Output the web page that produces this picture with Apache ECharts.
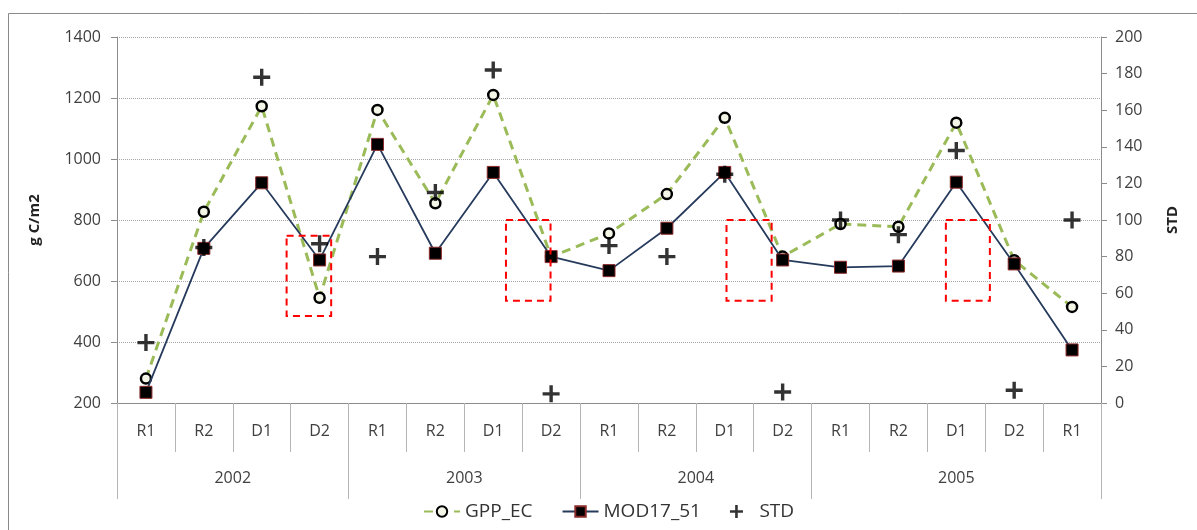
<!DOCTYPE html>
<html>
<head>
<meta charset="utf-8">
<script src="https://cdn.jsdelivr.net/npm/echarts@6/dist/echarts.min.js"></script>
<style>html,body{margin:0;padding:0;background:#fff}#c{width:1197px;height:530px}</style>
</head>
<body>
<div id="c"></div>
<script>
const categories = ['R1','R2','D1','D2','R1','R2','D1','D2','R1','R2','D1','D2','R1','R2','D1','D2','R1'];
const years = ['2002','2003','2004','2005'];
const yearSpans = [4, 4, 4, 5];
const gppEC = [280, 827, 1173, 545, 1161, 855, 1210, 679, 756, 885, 1135, 680, 787, 778, 1119, 668, 515];
const mod17 = [235, 707, 922, 669, 1048, 691, 956, 680, 634, 773, 956, 669, 645, 649, 924, 656, 374];
const stdVals = [33, 85, 178, 87, 80, 115, 182, 5, 86, 80, 125, 6, 100, 92, 138, 7, 100];
const leftTicks = [200, 1400, 200];   // min, max, interval
const rightTicks = [0, 200, 20];
// highlighted boxes: [xStart, xEnd] in category units (0..17), [yLow, yHigh] in g C/m2
const boxes = [
  [2.93, 3.70, 485, 748],
  [6.72, 7.49, 535, 800],
  [10.53, 11.31, 535, 800],
  [14.32, 15.08, 535, 800]
];

// year axis built from half-category slots
const nSlots = categories.length * 2 + 1;
const yearAxisData = new Array(nSlots).fill('');
const yearBounds = new Set([0]);
let cum = 0;
years.forEach((y, i) => {
  yearAxisData[cum * 2 + yearSpans[i]] = y;
  cum += yearSpans[i];
  yearBounds.add(cum * 2);
});

const plusPath = 'path://M6.8,0h3.4v6.8h6.8v3.4h-6.8v6.8h-3.4v-6.8h-6.8v-3.4h6.8z';
const gray = '#8c8c8c';
const fontFam = '"Open Sans", "Noto Sans", sans-serif';

const chart = echarts.init(document.getElementById('c'));
chart.setOption({
  animation: false,
  textStyle: { fontFamily: fontFam },
  graphic: [{
    type: 'rect', shape: { x: 8.5, y: 13.5, width: 1200, height: 530 },
    style: { fill: 'none', stroke: '#8a8a8a', lineWidth: 1 }, silent: true, z: -10
  }],
  grid: { left: 117, right: 96, top: 37, bottom: 127 },
  legend: {
    left: 418, top: 497,
    itemWidth: 36, itemHeight: 13, itemGap: 29,
    textStyle: { fontSize: 19, color: '#333', fontFamily: fontFam },
    data: ['GPP_EC', 'MOD17_51', 'STD']
  },
  xAxis: [
    {
      type: 'category', data: categories, position: 'bottom', boundaryGap: true,
      axisLine: { show: true, lineStyle: { color: gray, width: 1 } },
      axisTick: { show: true, interval: 0, length: 49, lineStyle: { color: '#b5b5b5' } },
      axisLabel: { interval: 0, margin: 20, fontSize: 16, color: '#404040' },
      splitLine: { show: false }
    },
    {
      type: 'category', data: yearAxisData, position: 'bottom', boundaryGap: false,
      axisLine: { show: false },
      axisTick: { show: true, length: 96, interval: (i) => yearBounds.has(i), lineStyle: { color: '#b5b5b5' } },
      axisLabel: { interval: (i, v) => v !== '', margin: 67, fontSize: 16, color: '#404040' },
      splitLine: { show: false }
    },
    { type: 'value', min: 0, max: categories.length, show: false }
  ],
  yAxis: [
    {
      type: 'value', min: leftTicks[0], max: leftTicks[1], interval: leftTicks[2],
      name: 'g C/m2', nameLocation: 'middle', nameGap: 75, nameRotate: 90,
      nameTextStyle: { fontSize: 15, fontWeight: 'bold', color: '#222' },
      axisLine: { show: true, lineStyle: { color: gray } },
      axisTick: { show: true, length: 6, lineStyle: { color: gray } },
      axisLabel: { fontSize: 16, color: '#404040', margin: 16, formatter: (v) => String(v) },
      splitLine: { show: true, lineStyle: { color: '#a6a6a6', type: [1, 1], width: 1 } }
    },
    {
      type: 'value', min: rightTicks[0], max: rightTicks[1], interval: rightTicks[2],
      name: 'STD', nameLocation: 'middle', nameGap: 64, nameRotate: 90,
      nameTextStyle: { fontSize: 15, fontWeight: 'bold', color: '#222' },
      axisLine: { show: true, lineStyle: { color: gray } },
      axisTick: { show: true, length: 6, lineStyle: { color: gray } },
      axisLabel: { fontSize: 16, color: '#404040', margin: 14, formatter: (v) => String(v) },
      splitLine: { show: false }
    }
  ],
  series: [
    {
      name: 'GPP_EC', type: 'line', data: gppEC, xAxisIndex: 0, yAxisIndex: 0,
      symbol: 'circle', symbolSize: 10,
      lineStyle: { color: '#9bbb59', width: 3, type: [9, 6] },
      itemStyle: { color: '#f3f6e6', borderColor: '#000', borderWidth: 2.5 },
      z: 3
    },
    {
      name: 'MOD17_51', type: 'line', data: mod17, xAxisIndex: 0, yAxisIndex: 0,
      symbol: 'rect', symbolSize: 12,
      lineStyle: { color: '#263a5c', width: 1.8 },
      itemStyle: { color: '#000', borderColor: '#8b2a2a', borderWidth: 1 },
      z: 4
    },
    {
      name: 'STD', type: 'scatter', data: stdVals, xAxisIndex: 0, yAxisIndex: 1,
      symbol: plusPath, symbolSize: 17,
      itemStyle: { color: '#000' },
      z: 5
    },
    {
      type: 'custom', xAxisIndex: 2, yAxisIndex: 0, data: boxes, silent: true, z: 6,
      renderItem: (params, api) => {
        const p0 = api.coord([api.value(0), api.value(3)]);
        const p1 = api.coord([api.value(1), api.value(2)]);
        return {
          type: 'rect',
          shape: { x: p0[0], y: p0[1], width: p1[0] - p0[0], height: p1[1] - p0[1] },
          style: { fill: 'none', stroke: '#ff0000', lineWidth: 2, lineDash: [7, 5] }
        };
      }
    }
  ]
});
</script>
</body>
</html>
